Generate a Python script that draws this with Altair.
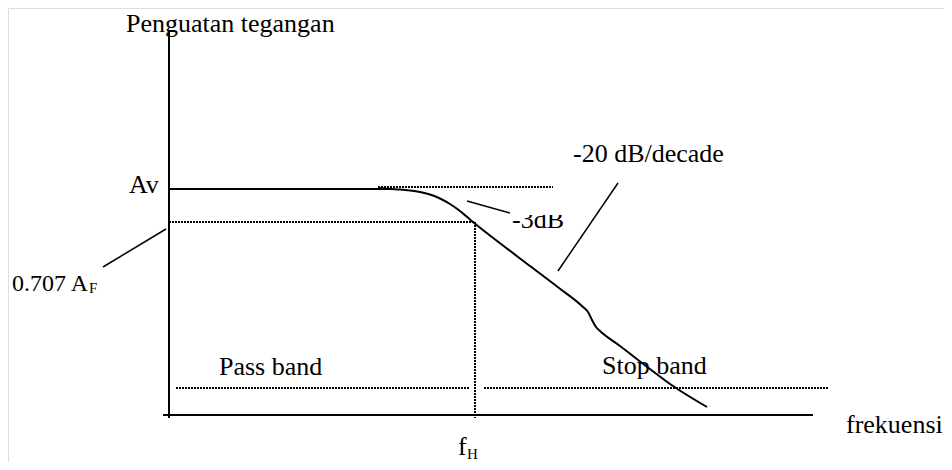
import altair as alt
import pandas as pd

# Diagram coordinate system (origin at the axes' corner, y upward)
X_MIN, X_MAX = -161, 775
Y_MIN, Y_MAX = -47, 407

# Straight segments: x1, y1, x2, y2, style, width
seg_x1 = [0, -6, 0, -3, 298, 389, 209, 0, 306, 7, 315]
seg_y1 = [-3, 0, 226, 186, 214, 144, 228, 193, 193, 27, 27]
seg_x2 = [0, 644, 223, -66, 341, 449, 384, 306, 306, 301, 660]
seg_y2 = [383, 0, 226, 148, 202, 232, 228, 193, -3, 27, 27]
seg_style = ["solid", "solid", "solid", "solid", "solid", "solid",
             "dotted", "dotted", "dotted", "dotted", "dotted"]
seg_width = [2, 2, 2, 1.5, 1.5, 1.5, 2, 2, 2, 2, 2]

# Frequency-response curve
curve_x = [209, 222, 231, 241, 251, 261, 271, 281, 289, 297, 304,
           332, 361, 390, 414, 419, 423, 427, 431, 451, 481, 504, 538]
curve_y = [227, 226, 225.5, 224.5, 223, 220.5, 216.5, 211, 205.5, 199, 193,
           171, 149, 127, 108, 103, 95, 88, 84, 69, 46, 29, 8]

# Labels
lab_text = ["Penguatan tegangan", "Av", "0.707 A", "F", "-3dB", "-20 dB/decade",
            "Pass band", "Stop band", "frekuensi", "f", "H"]
lab_x = [-43, -40, -157, -80, 343, 404, 50, 433, 677, 289, 298]
lab_y = [383, 222, 124, 122, 187, 253, 40, 41, -18, -40, -44]
lab_size = [26, 26, 24, 15, 26, 26, 26, 26, 26, 26, 15]

# Mask that trims the top of the "-3dB" label, as in the source figure
mask_x, mask_x2 = [342], [398]
mask_y, mask_y2 = [200], [215]

segs = pd.DataFrame({"x": seg_x1, "y": seg_y1, "x2": seg_x2, "y2": seg_y2,
                     "style": seg_style, "w": seg_width})
curve = pd.DataFrame({"x": curve_x, "y": curve_y})
labels = pd.DataFrame({"x": lab_x, "y": lab_y, "t": lab_text, "s": lab_size})
mask = pd.DataFrame({"x": mask_x, "x2": mask_x2, "y": mask_y, "y2": mask_y2})

xs = alt.Scale(domain=[X_MIN, X_MAX], nice=False, zero=False)
ys = alt.Scale(domain=[Y_MIN, Y_MAX], nice=False, zero=False)

base_seg = alt.Chart(segs)
solid = base_seg.transform_filter(alt.datum.style == "solid").mark_rule(color="black").encode(
    x=alt.X("x:Q", scale=xs, axis=None),
    y=alt.Y("y:Q", scale=ys, axis=None),
    x2="x2:Q", y2="y2:Q",
    strokeWidth=alt.StrokeWidth("w:Q", scale=None),
)
dotted = base_seg.transform_filter(alt.datum.style == "dotted").mark_rule(
    color="black", strokeDash=[2, 1]
).encode(
    x=alt.X("x:Q", scale=xs, axis=None),
    y=alt.Y("y:Q", scale=ys, axis=None),
    x2="x2:Q", y2="y2:Q",
    strokeWidth=alt.StrokeWidth("w:Q", scale=None),
)
line = alt.Chart(curve).mark_line(color="black", strokeWidth=2, interpolate="monotone").encode(
    x=alt.X("x:Q", scale=xs, axis=None),
    y=alt.Y("y:Q", scale=ys, axis=None),
)
text = alt.Chart(labels).mark_text(
    align="left", baseline="alphabetic", font="Liberation Serif", color="black"
).encode(
    x=alt.X("x:Q", scale=xs, axis=None),
    y=alt.Y("y:Q", scale=ys, axis=None),
    text="t:N",
    size=alt.Size("s:Q", scale=None),
)
mask_layer = alt.Chart(mask).mark_rect(color="white").encode(
    x=alt.X("x:Q", scale=xs, axis=None),
    x2="x2:Q",
    y=alt.Y("y:Q", scale=ys, axis=None),
    y2="y2:Q",
)

chart = (solid + dotted + line + text + mask_layer).properties(
    width=936, height=454, padding=0, autosize=alt.AutoSizeParams(type="none")
).configure_view(stroke=None).configure(background="white")

chart.save("out.html", embed_options={"renderer": "svg", "actions": False})
